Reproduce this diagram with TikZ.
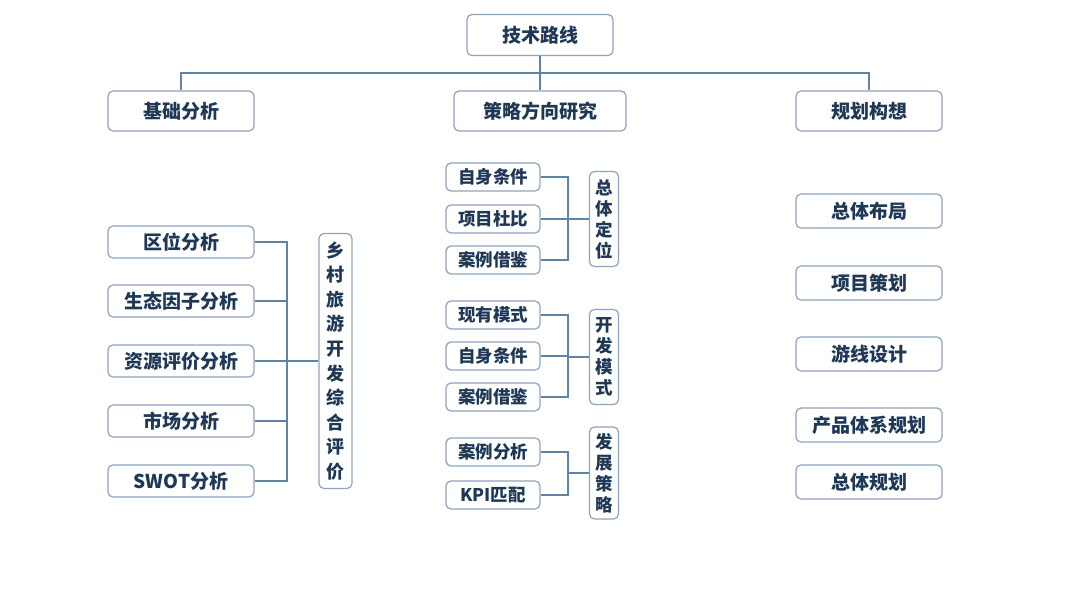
\documentclass[tikz,border=0pt]{standalone}
\usepackage{fontspec}
\setmainfont{Noto Sans CJK SC}[BoldFont={Noto Sans CJK SC Black}]
\definecolor{boxc}{HTML}{8FA3BA}
\definecolor{txt}{HTML}{1E3856}
\definecolor{linec}{HTML}{5F84A6}
\begin{document}
\begin{tikzpicture}[x=1pt,y=-1pt,
  box/.style={draw=boxc, fill=white, rounded corners=5, line width=1.2, text=txt,
    font=\bfseries\fontsize{19}{22}\selectfont, minimum width=146, minimum height=34, inner sep=0},
  small/.style={box, font=\bfseries\fontsize{17.5}{20}\selectfont, minimum width=94, minimum height=28},
  vbox/.style={box, minimum width=29, align=center},
  conn/.style={draw=linec, line width=1.4}]
\useasboundingbox (0,0) rectangle (1080,608);
% top
\node[box, minimum height=41] (top) at (540,35) {技术路线};
\node[box, minimum height=40] (jc) at (181,111) {基础分析};
\node[box, minimum width=172, minimum height=40] (cl) at (540,111) {策略方向研究};
\node[box, minimum height=40] (gh) at (869,111) {规划构想};
\coordinate (hl) at (540,73);
\draw[conn] (top.south) -- (cl.north);
\draw[conn] (jc.north) |- (hl) -| (gh.north);
% left
\node[box, minimum height=32] (q1) at (181,242) {区位分析};
\node[box, minimum height=32] (q2) at (181,301) {生态因子分析};
\node[box, minimum height=32] (q3) at (181,361) {资源评价分析};
\node[box, minimum height=32] (q4) at (181,421) {市场分析};
\node[box, minimum height=32] (q5) at (181,481) {SWOT分析};
\node[vbox, font=\bfseries\fontsize{18}{24.6}\selectfont, minimum width=33, minimum height=255] (xc) at (335.5,361)
  {乡\\村\\旅\\游\\开\\发\\综\\合\\评\\价};
\coordinate (lb) at (287,361);
\draw[conn] (q1.east) -| (lb) |- (q5.east);
\draw[conn] (q2.east) -- (q2.east -| lb);
\draw[conn] (q3.east) -- (xc.west);
\draw[conn] (q4.east) -- (q4.east -| lb);
% middle group 1
\node[small] (a1) at (493,177) {自身条件};
\node[small] (a2) at (493,219) {项目杜比};
\node[small] (a3) at (493,260) {案例借鉴};
\node[vbox, font=\bfseries\fontsize{17.5}{21}\selectfont, minimum height=95] (ga) at (604,219) {总\\体\\定\\位};
\coordinate (ca) at (568,219);
\draw[conn] (a1.east) -| (ca) |- (a3.east);
\draw[conn] (a2.east) -- (ga.west);
% middle group 2
\node[small] (b1) at (493,315) {现有模式};
\node[small] (b2) at (493,356) {自身条件};
\node[small] (b3) at (493,397) {案例借鉴};
\node[vbox, font=\bfseries\fontsize{17.5}{21}\selectfont, minimum height=95] (gb) at (604,357) {开\\发\\模\\式};
\coordinate (cb) at (568,357);
\draw[conn] (b1.east) -| (cb) |- (b3.east);
\draw[conn] (b2.east) -- (b2.east -| cb);
\draw[conn] (cb) -- (gb.west);
% middle group 3
\node[small] (c1) at (493,452) {案例分析};
\node[small] (c2) at (493,495) {KPI匹配};
\node[vbox, font=\bfseries\fontsize{17.5}{21}\selectfont, minimum height=92] (gc) at (604,473) {发\\展\\策\\略};
\coordinate (cc) at (568,473);
\draw[conn] (c1.east) -| (cc) |- (c2.east);
\draw[conn] (cc) -- (gc.west);
% right
\node[box] (r1) at (869,211) {总体布局};
\node[box] (r2) at (869,283) {项目策划};
\node[box] (r3) at (869,354) {游线设计};
\node[box] (r4) at (869,425) {产品体系规划};
\node[box] (r5) at (869,482) {总体规划};
\end{tikzpicture}
\end{document}
